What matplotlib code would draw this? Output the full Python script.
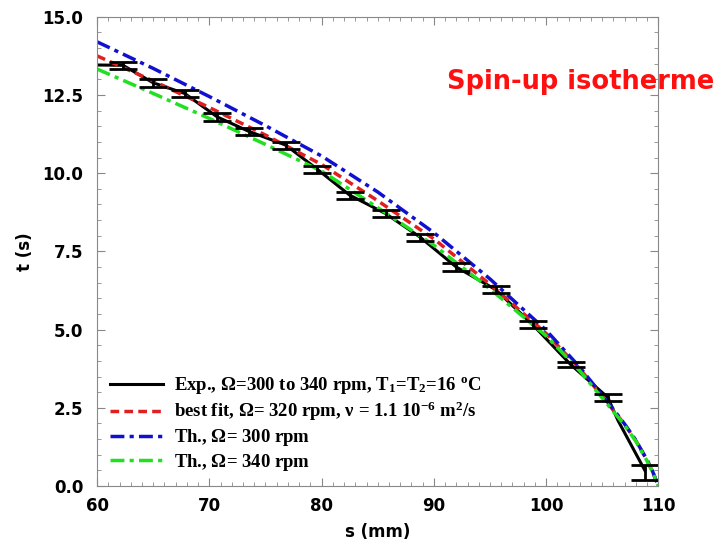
import numpy as np
import matplotlib.pyplot as plt
from matplotlib.ticker import MultipleLocator

plt.rcParams['mathtext.fontset'] = 'custom'
plt.rcParams['mathtext.rm'] = 'Liberation Serif:bold'
plt.rcParams['mathtext.it'] = 'Liberation Serif:bold'

# experimental points (s in mm, t in s) with error bars
s_exp = [62.3, 65.0, 67.8, 70.7, 73.5, 76.8, 79.6, 82.5, 85.7, 88.8, 92.0, 95.5, 98.8, 102.2, 105.5, 108.8]
t_exp = [13.45, 12.89, 12.55, 11.8, 11.34, 10.9, 10.13, 9.3, 8.71, 7.95, 7.0, 6.28, 5.16, 3.88, 2.83, 0.43]
t_err = [0.12, 0.12, 0.12, 0.13, 0.12, 0.11, 0.11, 0.11, 0.11, 0.11, 0.12, 0.12, 0.12, 0.09, 0.11, 0.24]

# experimental curve
s_line = [60.0, 62.3, 65.0, 67.8, 70.7, 73.5, 76.8, 79.6, 82.5, 85.7, 88.8, 92.0, 95.5, 98.8, 102.2, 105.5, 106.4, 108.8]
t_line = [13.46, 13.45, 12.89, 12.55, 11.8, 11.34, 10.9, 10.13, 9.3, 8.71, 7.95, 7.0, 6.28, 5.16, 3.88, 2.83, 2.1, 0.5]

# theoretical curves
s_th = [60, 65, 70, 75, 80, 85, 90, 95, 100, 103, 106, 107, 108, 109, 109.5, 110]
t_fit = [13.75, 12.95, 12.1, 11.22, 10.28, 9.12, 7.9, 6.45, 4.88, 3.75, 2.42, 1.97, 1.45, 0.82, 0.45, 0.0]
t_300 = [14.2, 13.35, 12.45, 11.52, 10.55, 9.4, 8.1, 6.62, 4.98, 3.8, 2.45, 1.98, 1.46, 0.83, 0.46, 0.0]
t_340 = [13.33, 12.55, 11.75, 10.92, 10.07, 8.9, 7.7, 6.3, 4.8, 3.68, 2.38, 1.94, 1.43, 0.8, 0.44, 0.0]

fig = plt.figure(figsize=(7.25, 5.43), dpi=100)
ax = fig.add_axes([0.134, 0.105, 0.774, 0.864])

ax.plot(s_line, t_line, color='black', lw=2.2,
        label=r'Exp., $\Omega$=300 to 340 rpm, T$_1$=T$_2$=16 $^o$C')
ax.plot(s_th, t_fit, color='#e02020', lw=2.5, ls=(0, (2.5, 1.5)),
        label=r'best fit, $\Omega$= 320 rpm, $\nu$ = 1.1 10$^{-6}$ m$^2$/s')
ax.plot(s_th, t_300, color='#1010d0', lw=2.5, ls=(0, (4, 1.5, 1.2, 1.5)),
        label=r'Th., $\Omega$= 300 rpm')
ax.plot(s_th, t_340, color='#20e020', lw=2.5, ls=(0, (4, 1.5, 1.2, 1.5)),
        label=r'Th., $\Omega$= 340 rpm')
ax.errorbar(s_exp, t_exp, yerr=t_err, fmt='none', ecolor='black',
            elinewidth=2, capsize=10, capthick=2)

ax.set_xlim(60, 110)
ax.set_ylim(0, 15)
ax.xaxis.set_major_locator(MultipleLocator(10))
ax.xaxis.set_minor_locator(MultipleLocator(1))
ax.yaxis.set_major_locator(MultipleLocator(2.5))
ax.yaxis.set_minor_locator(MultipleLocator(0.5))
ax.yaxis.set_major_formatter(plt.FormatStrFormatter('%.1f'))
ax.tick_params(which='both', direction='in', top=True, right=True, color='#888888')
ax.tick_params(which='major', length=6, labelsize=12)
ax.tick_params(axis='y', which='major', pad=10)
ax.tick_params(axis='x', which='major', pad=8)
ax.tick_params(which='minor', length=3)
for lab in ax.get_xticklabels() + ax.get_yticklabels():
    lab.set_fontweight('bold')
for sp in ax.spines.values():
    sp.set_color('#888888')

ax.set_xlabel('s (mm)', fontsize=12, fontweight='bold', labelpad=6)
ax.set_ylabel('t (s)', fontsize=12, fontweight='bold', labelpad=6)

leg = ax.legend(loc='lower left', frameon=False, handlelength=2.8, handletextpad=0.6,
                prop={'family': 'Liberation Serif', 'weight': 'bold', 'size': 13.5},
                borderaxespad=0.3, labelspacing=0.2)

fig.text(0.801, 0.849, 'Spin-up isotherme', color='#ff1010', fontsize=18.5,
         fontweight='bold', ha='center', va='center')

fig.savefig('out.png', dpi=100)
